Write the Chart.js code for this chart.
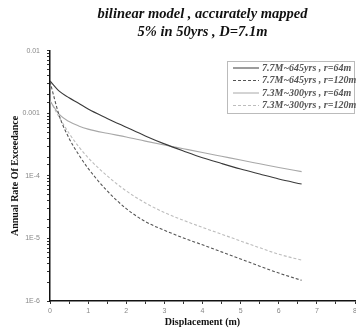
<!DOCTYPE html>
<html>
<head>
<meta charset="utf-8">
<script src="https://cdn.jsdelivr.net/npm/chart.js@4.4.1/dist/chart.umd.min.js"></script>
<style>
  html, body { margin: 0; padding: 0; background: #fff; }
  #wrap { width: 356px; height: 335px; }
</style>
</head>
<body>
<div id="wrap"><canvas id="chart"></canvas></div>
<script>
// displacement (m)
const displacement = [0, 0.25, 0.5, 0.75, 1, 1.5, 2, 2.5, 3, 3.5, 4, 4.5, 5, 5.5, 6, 6.6];

// annual rate of exceedance
const m77r64  = [3.3e-3, 2.24e-3, 1.78e-3, 1.45e-3, 1.17e-3, 8.3e-4, 6.0e-4, 4.35e-4, 3.25e-4, 2.5e-4, 1.95e-4, 1.58e-4, 1.29e-4, 1.07e-4, 8.9e-5, 7.4e-5];
const m77r120 = [3.2e-3, 8.9e-4, 4.0e-4, 2.2e-4, 1.32e-4, 5.75e-5, 3.0e-5, 1.86e-5, 1.35e-5, 1.02e-5, 7.9e-6, 6.1e-6, 4.7e-6, 3.6e-6, 2.8e-6, 2.14e-6];
const m73r64  = [1.58e-3, 9.5e-4, 7.4e-4, 6.3e-4, 5.6e-4, 4.8e-4, 4.2e-4, 3.6e-4, 3.12e-4, 2.72e-4, 2.37e-4, 2.06e-4, 1.79e-4, 1.56e-4, 1.36e-4, 1.17e-4];
const m73r120 = [1.58e-3, 8.5e-4, 4.8e-4, 2.95e-4, 1.95e-4, 1.0e-4, 5.75e-5, 3.7e-5, 2.6e-5, 1.95e-5, 1.5e-5, 1.17e-5, 9.1e-6, 7.1e-6, 5.6e-6, 4.5e-6];

const seriesLabels = ['7.7M~645yrs , r=64m', '7.7M~645yrs , r=120m', '7.3M~300yrs , r=64m', '7.3M~300yrs , r=120m'];

const pts = ys => displacement.map((x, i) => ({ x, y: ys[i] }));

const serif = '"Liberation Serif", "Times New Roman", serif';

// legend drawn inside the plot with a thin frame
const boxedLegend = {
  id: 'boxedLegend',
  afterDraw(chart) {
    const ctx = chart.ctx;
    const left = 227, top = 61, right = 355, bottom = 113;
    ctx.save();
    ctx.strokeStyle = '#bbb';
    ctx.lineWidth = 1;
    ctx.strokeRect(left + 0.5, top + 0.5, right - left - 1, bottom - top);
    ctx.font = 'italic bold 10px ' + serif;
    ctx.textBaseline = 'middle';
    chart.data.datasets.forEach((ds, i) => {
      const y = top + 7 + i * 12.5;
      ctx.strokeStyle = ds.borderColor;
      ctx.setLineDash(ds.borderDash || []);
      ctx.beginPath();
      ctx.moveTo(left + 6, y);
      ctx.lineTo(left + 32, y);
      ctx.stroke();
      ctx.setLineDash([]);
      ctx.fillStyle = '#555';
      ctx.fillText(ds.label, left + 35, y);
    });
    ctx.restore();
  }
};

new Chart(document.getElementById('chart'), {
  type: 'line',
  data: {
    datasets: [
      { label: seriesLabels[0], data: pts(m77r64),  borderColor: '#3a3a3a', borderWidth: 1.1 },
      { label: seriesLabels[1], data: pts(m77r120), borderColor: '#555555', borderWidth: 1.1, borderDash: [3, 2] },
      { label: seriesLabels[2], data: pts(m73r64),  borderColor: '#a8a8a8', borderWidth: 1.1 },
      { label: seriesLabels[3], data: pts(m73r120), borderColor: '#bdbdbd', borderWidth: 1.1, borderDash: [3, 2] }
    ]
  },
  options: {
    responsive: true,
    maintainAspectRatio: false,
    animation: false,
    layout: { padding: { left: 0, right: 1, top: 0, bottom: 0 } },
    elements: {
      point: { radius: 0 },
      line: { cubicInterpolationMode: 'monotone', fill: false }
    },
    plugins: {
      legend: { display: false },
      tooltip: { enabled: false },
      title: {
        display: true,
        fullSize: false,
        text: ['bilinear model , accurately mapped', '5% in 50yrs , D=7.1m'],
        color: '#111',
        font: { family: serif, size: 14.5, style: 'italic', weight: 'bold', lineHeight: 1.2 },
        padding: { top: 6, bottom: 10 }
      }
    },
    scales: {
      x: {
        type: 'linear',
        min: 0,
        max: 8,
        border: { color: '#111', width: 1.5 },
        grid: { drawOnChartArea: false, tickLength: 3, color: '#333' },
        afterFit: s => { s.height = 34; s.paddingLeft = 0; s.paddingRight = 0; },
        ticks: {
          stepSize: 0.5,
          autoSkip: false,
          maxRotation: 0,
          padding: 3,
          color: '#888',
          font: { family: 'Arial, "Liberation Sans", sans-serif', size: 7 },
          callback: v => Number.isInteger(v) ? String(v) : ''
        },
        title: {
          display: true,
          text: 'Displacement (m)',
          color: '#111',
          font: { family: serif, size: 10, weight: 'bold' },
          padding: { top: 3, bottom: 7 }
        }
      },
      y: {
        type: 'logarithmic',
        min: 1e-6,
        max: 0.01,
        border: { color: '#111', width: 1.5 },
        grid: { drawOnChartArea: false, tickLength: 3, color: '#333' },
        afterFit: s => { s.width = 50; },
        ticks: {
          autoSkip: false,
          padding: 7,
          color: '#888',
          font: { family: 'Arial, "Liberation Sans", sans-serif', size: 7 },
          callback: v => {
            const e = Math.log10(v);
            if (Math.abs(e - Math.round(e)) > 1e-9) return '';
            const n = Math.round(e);
            return n >= -3 ? String(Math.pow(10, n).toFixed(-n)) : '1E' + n;
          }
        },
        title: {
          display: true,
          text: 'Annual Rate Of Exceedance',
          color: '#111',
          font: { family: serif, size: 10, weight: 'bold' },
          padding: { top: 9, bottom: 2 }
        }
      }
    }
  },
  plugins: [boxedLegend]
});
</script>
</body>
</html>
